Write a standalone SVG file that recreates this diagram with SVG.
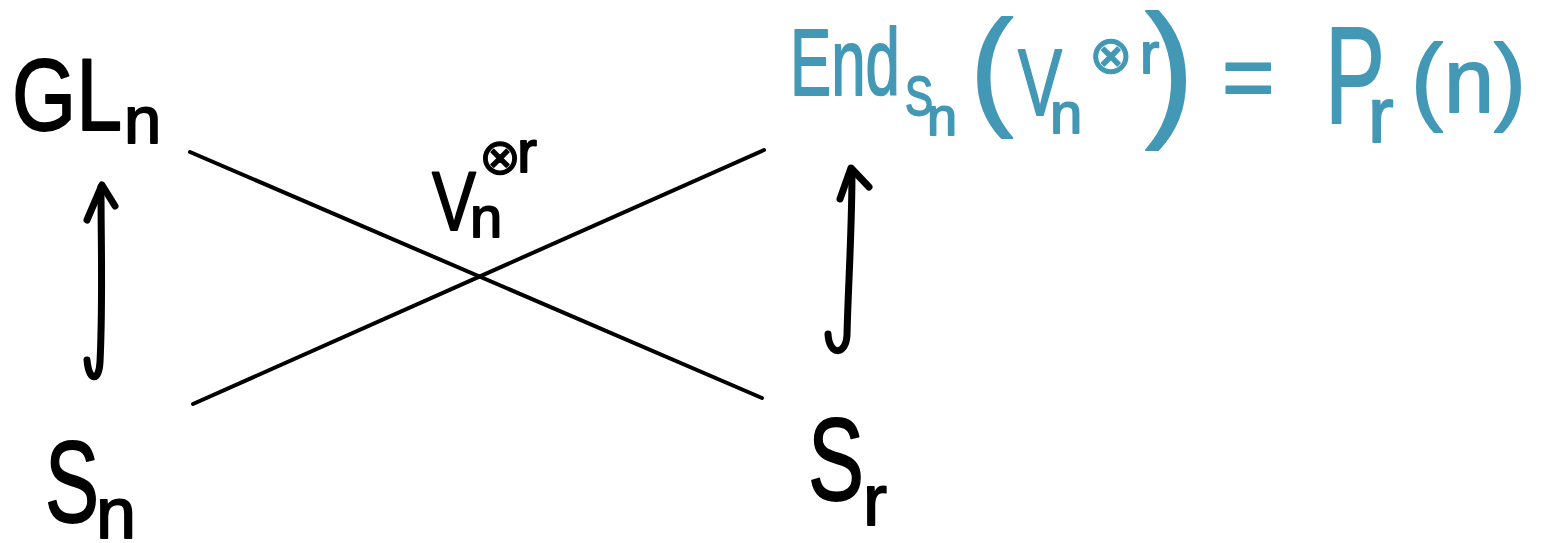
<svg xmlns="http://www.w3.org/2000/svg" width="1542" height="543" viewBox="0 0 1542 543">
<style>
.t{font-family:"Liberation Sans","DejaVu Sans",sans-serif;fill:#000;stroke:#000;stroke-width:1.8;stroke-linejoin:round}
.b{fill:#4398b5;stroke:#4398b5}
.op{font-family:"DejaVu Sans","Liberation Sans",sans-serif;stroke-width:1.2}
.ln{stroke:#000;stroke-width:4;fill:none;stroke-linecap:round}
.ar{stroke:#000;stroke-width:7;fill:none;stroke-linecap:round;stroke-linejoin:round}
</style>
<rect width="1542" height="543" fill="#fff"/>
<g id="connectors">
<line class="ln" x1="190" y1="152" x2="762" y2="398"/>
<line class="ln" x1="193" y1="404" x2="764" y2="150"/>
<g id="hook-left">
<path class="ar" d="M87 220 L102 185 L115 206"/>
<path class="ar" d="M101 187 C101 250 103 300 100 362 C99 382 89 382 87 360"/>
</g>
<g id="hook-right">
<path class="ar" d="M840 199 L851 168 L869 187"/>
<path class="ar" d="M852 171 C852 230 848 290 847 335 C846 356 829 356 828 334"/>
</g>
</g>
<g id="GLn">
<text class="t" x="12" y="130" font-size="102" textLength="110" lengthAdjust="spacingAndGlyphs">GL</text>
<text class="t" x="124" y="143" font-size="67">n</text>
</g>
<g id="Sn">
<text class="t" x="45" y="522" font-size="115" textLength="54" lengthAdjust="spacingAndGlyphs">S</text>
<text class="t" x="96" y="538" font-size="72">n</text>
</g>
<g id="Sr">
<text class="t" x="808" y="500" font-size="116" textLength="56" lengthAdjust="spacingAndGlyphs">S</text>
<text class="t" x="863" y="525" font-size="72">r</text>
</g>
<g id="Vn">
<text class="t" x="432" y="230" font-size="84" textLength="44" lengthAdjust="spacingAndGlyphs">V</text>
<text class="t" x="470" y="237" font-size="58">n</text>
<text class="t op" x="479" y="174" font-size="50">⊗</text>
<text class="t" x="517" y="172" font-size="60">r</text>
</g>
<g id="EndSn">
<text class="t b" x="790" y="95" font-size="95" textLength="110" lengthAdjust="spacingAndGlyphs">End</text>
<text class="t b" x="905" y="115" font-size="56" textLength="28" lengthAdjust="spacingAndGlyphs">S</text>
<text class="t b" x="927" y="135" font-size="54">n</text>
<text class="t b" x="970" y="111" font-size="130">(</text>
<text class="t b" x="1018" y="115" font-size="94" textLength="44" lengthAdjust="spacingAndGlyphs">V</text>
<text class="t b" x="1050" y="133" font-size="58">n</text>
<text class="t b op" x="1089" y="73" font-size="52">⊗</text>
<text class="t b" x="1140" y="73" font-size="58">r</text>
<text class="t b" x="1145" y="119" font-size="148">)</text>
<text class="t b" x="1222" y="108" font-size="90">=</text>
<text class="t b" x="1325" y="123" font-size="137" textLength="60" lengthAdjust="spacingAndGlyphs">P</text>
<text class="t b" x="1368" y="142" font-size="77">r</text>
<text class="t b" x="1411" y="112" font-size="96">(</text>
<text class="t b" x="1444" y="112" font-size="90">n</text>
<text class="t b" x="1494" y="112" font-size="96">)</text>
</g>
</svg>
